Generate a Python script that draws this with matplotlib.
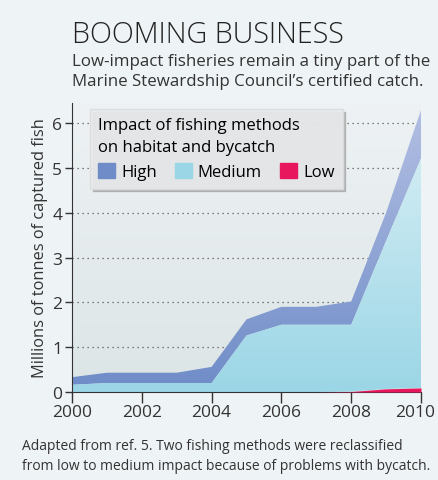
import matplotlib.pyplot as plt
import numpy as np
from matplotlib.patches import Patch
from matplotlib.transforms import ScaledTranslation

years = [2000, 2001, 2002, 2003, 2004, 2005, 2006, 2007, 2008, 2009, 2010]
# Millions of tonnes, stacked bottom to top: low, medium, high
low = [0, 0, 0, 0, 0, 0, 0, 0, 0.01, 0.07, 0.09]
medium = [0.16, 0.20, 0.20, 0.20, 0.20, 1.26, 1.50, 1.50, 1.49, 3.30, 5.12]
high = [0.17, 0.23, 0.23, 0.23, 0.36, 0.36, 0.40, 0.40, 0.52, 0.63, 1.08]

x_ticks = [2000, 2002, 2004, 2006, 2008, 2010]
y_ticks = [0, 1, 2, 3, 4, 5, 6]

BG = "#eef3f5"
FONT = "Open Sans"
plt.rcParams["font.family"] = [FONT, "DejaVu Sans"]

fig = plt.figure(figsize=(4.39, 4.81), dpi=100, facecolor=BG)
ax = fig.add_axes([0.164, 0.183, 0.795, 0.601])
ax.set_facecolor(BG)

x = np.array(years, dtype=float)
l = np.array(low)
m = l + np.array(medium)
h = m + np.array(high)
ymax = 6.45


def gradient_fill(y0, y1, c_bottom, c_top, z):
    poly = ax.fill_between(x, y0, y1, color="none", lw=0, zorder=z)
    cb = np.array(plt.matplotlib.colors.to_rgb(c_bottom))
    ct = np.array(plt.matplotlib.colors.to_rgb(c_top))
    t = np.linspace(0, 1, 256)[:, None]
    img = (cb * (1 - t) + ct * t)[:, None, :]
    im = ax.imshow(img, extent=[x[0], x[-1], 0, ymax], origin="lower",
                   aspect="auto", zorder=z, interpolation="bilinear")
    im.set_clip_path(poly.get_paths()[0], ax.transData)


# plot-area background gradient
gradient_fill(np.zeros_like(x), np.full_like(x, ymax), "#dce5e6", "#eef2f4", 0)
gradient_fill(m, h, "#6f8cc8", "#b4c0e3", 2)
gradient_fill(l, m, "#9bd6e6", "#ddf1f6", 2)
ax.fill_between(x, 0, l, color="#e8175d", lw=0, zorder=3)

for yv in y_ticks[1:]:
    ax.axhline(yv, xmax=0.985, color="#555555", lw=0.9, ls=(0, (1, 3)), zorder=1)

ax.set_xlim(2000, 2010)
ax.set_ylim(0, ymax)
ax.set_xticks(x_ticks)
ax.set_yticks(y_ticks)
ax.tick_params(axis="both", labelsize=12.5, colors="#333333", width=1)
ax.tick_params(axis="x", length=8, pad=1)
ax.tick_params(axis="y", length=5, pad=2)
# last year label sits a little left so it stays inside the figure
last = ax.get_xticklabels()[-1]
last.set_transform(last.get_transform() + ScaledTranslation(-6 / 100, 0, fig.dpi_scale_trans))
for s in ["top", "right"]:
    ax.spines[s].set_visible(False)
ax.spines["left"].set_color("#333333")
ax.spines["bottom"].set_color("#333333")
ax.set_ylabel("Millions of tonnes of captured fish", fontsize=11.8,
              color="#333333", labelpad=3)

handles = [Patch(color="#6f8cc8", label="High"),
           Patch(color="#9bd6e6", label="Medium"),
           Patch(color="#e8175d", label="Low")]
leg = ax.legend(handles=handles, ncol=3, title="Impact of fishing methods\non habitat and bycatch",
                loc="upper left", bbox_to_anchor=(0.0516, 0.979), borderaxespad=0,
                fontsize=12, title_fontsize=12, alignment="left", frameon=True,
                fancybox=False, shadow={"color": "#9a9a9a", "alpha": 0.6},
                handlelength=1.0, handleheight=1.0, handletextpad=0.36,
                columnspacing=1.1, borderpad=0.5, labelspacing=0.5, framealpha=0.9)
leg.get_title().set_linespacing(1.45)
leg.get_frame().set_facecolor("#e8eaeb")
leg.get_frame().set_edgecolor("#dadcdd")
leg.set_zorder(5)

fig.text(72 / 439, 1 - 35 / 481, "BOOMING BUSINESS", fontsize=20.7, fontweight="light",
         color="#222222", va="center", ha="left")
fig.text(72 / 439, 1 - 62 / 481, "Low-impact fisheries remain a tiny part of the",
         fontsize=12.2, color="#333333", va="center", ha="left")
fig.text(72 / 439, 1 - 82 / 481, "Marine Stewardship Council\u2019s certified catch.",
         fontsize=12.2, color="#333333", va="center", ha="left")
fig.text(22 / 439, 1 - 447 / 481, "Adapted from ref. 5. Two fishing methods were reclassified",
         fontsize=10, color="#333333", va="center", ha="left")
fig.text(22 / 439, 1 - 466 / 481, "from low to medium impact because of problems with bycatch.",
         fontsize=10, color="#333333", va="center", ha="left")

fig.savefig("out.png", dpi=100, facecolor=BG)
